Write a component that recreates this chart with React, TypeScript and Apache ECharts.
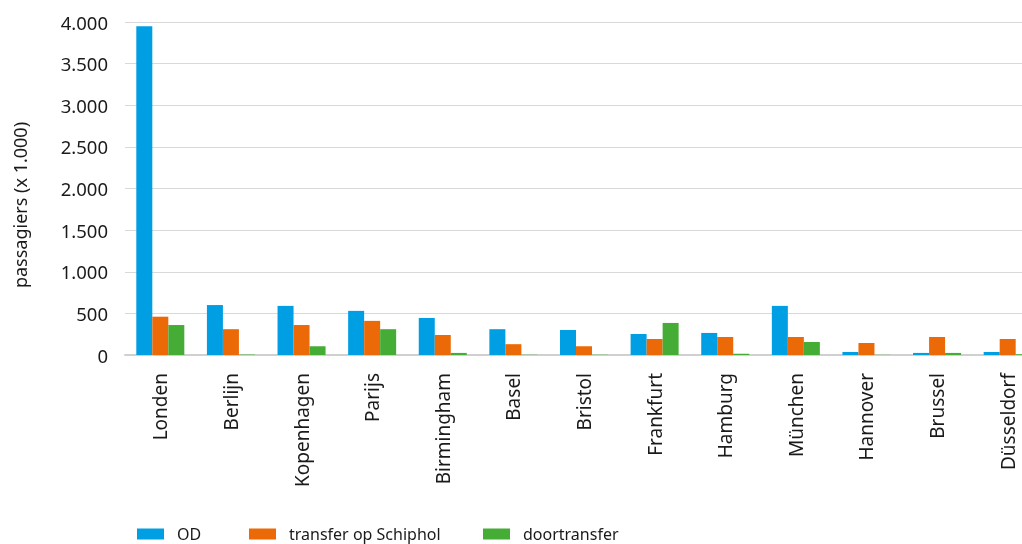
import React, { useEffect, useRef } from "react";
import * as echarts from "echarts";

const categories = ["Londen", "Berlijn", "Kopenhagen", "Parijs", "Birmingham", "Basel", "Bristol", "Frankfurt", "Hamburg", "München", "Hannover", "Brussel", "Düsseldorf"];
const od = [3950, 600, 590, 530, 445, 310, 300, 252, 265, 590, 36, 25, 36];
const transfer = [460, 310, 360, 410, 240, 130, 105, 192, 216, 216, 144, 216, 192];
const doortransfer = [360, 5, 105, 310, 25, 3, 3, 385, 15, 156, 2, 25, 8];
const yTicks = [0, 500, 1000, 1500, 2000, 2500, 3000, 3500, 4000];

const FONT = "'Noto Sans', sans-serif";

function fmt(v: number): string {
  return v.toString().replace(/\B(?=(\d{3})+(?!\d))/g, ".");
}

export default function App() {
  const ref = useRef<HTMLDivElement>(null);
  useEffect(() => {
    if (!ref.current) return;
    const chart = echarts.init(ref.current, null, { renderer: "svg" });
    const legendBase = {
      top: 521,
      itemWidth: 27,
      itemHeight: 11,
      icon: "rect",
      textStyle: { fontFamily: FONT, fontSize: 16, color: "#1a1a1a", padding: [0, 0, 0, 8] },
    };
    chart.setOption({
      animation: false,
      color: ["#009FE3", "#EC6907", "#45AD35"],
      legend: [
        { ...legendBase, left: 132, data: ["OD"] },
        { ...legendBase, left: 244, data: ["transfer op Schiphol"] },
        { ...legendBase, left: 478, data: ["doortransfer"] },
      ],
      grid: { left: 125, right: 0, top: 22, bottom: 189, containLabel: false },
      graphic: [
        {
          type: "text",
          x: 20,
          y: 205,
          rotation: Math.PI / 2,
          style: {
            text: "passagiers (x 1.000)",
            fontFamily: FONT,
            fontSize: 18,
            fill: "#1a1a1a",
            textAlign: "center",
            textVerticalAlign: "middle",
          },
        },
      ],
      xAxis: {
        type: "category",
        data: categories,
        axisLine: { lineStyle: { color: "#d0d0d0", width: 2 } },
        axisTick: { show: false },
        axisLabel: {
          rotate: 90,
          margin: 18,
          fontFamily: FONT,
          fontSize: 19,
          color: "#1a1a1a",
          interval: 0,
        },
      },
      yAxis: {
        type: "value",
        min: yTicks[0],
        max: yTicks[yTicks.length - 1],
        interval: 500,
        axisLine: { show: false },
        axisTick: { show: false },
        splitLine: { lineStyle: { color: "#d9d9d9", width: 1 } },
        axisLabel: {
          margin: 17,
          fontFamily: FONT,
          fontSize: 18.5,
          color: "#1a1a1a",
          formatter: (v: number) => fmt(v),
        },
      },
      series: [
        { name: "OD", type: "bar", data: od, barGap: "0%", barCategoryGap: "32%" },
        { name: "transfer op Schiphol", type: "bar", data: transfer, barGap: "0%", barCategoryGap: "32%" },
        { name: "doortransfer", type: "bar", data: doortransfer, barGap: "0%", barCategoryGap: "32%" },
      ],
    });
    return () => chart.dispose();
  }, []);
  return (
    <div
      ref={ref}
      style={{ position: "fixed", left: 0, top: 0, width: 1043, height: 544 }}
    />
  );
}
